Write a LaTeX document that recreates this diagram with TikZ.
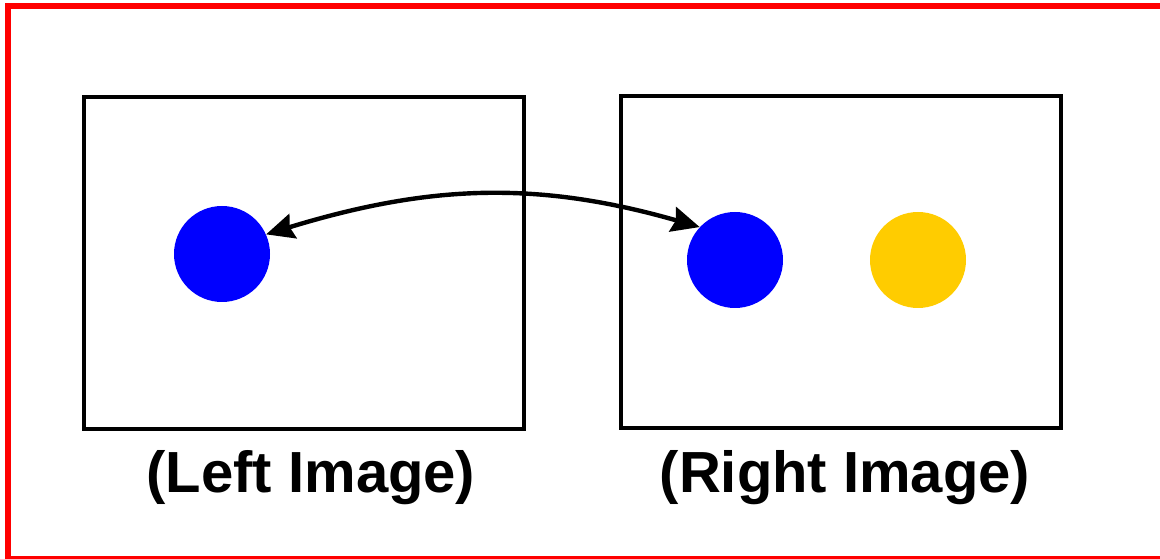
\documentclass[tikz,border=0pt]{standalone}
\usepackage{fontspec}
\setmainfont{Liberation Sans}
\usetikzlibrary{arrows.meta}

\begin{document}
\begin{tikzpicture}[x=0.75pt,y=-0.75pt,
  frame/.style={draw,line width=2.8pt,minimum width=330pt,minimum height=249pt,inner sep=0pt},
  dot/.style={circle,minimum size=72pt,inner sep=0pt},
  caption/.style={font=\fontsize{43.5}{48}\bfseries\selectfont,inner sep=0pt}]
  \useasboundingbox (0,0) rectangle (1160,559);
  \draw[red,line width=4.5pt] (8,6.5) rectangle (1175,559);
  \node[frame] (lbox) at (304,263) {};
  \node[frame] (rbox) at (841,262) {};
  \node[dot,fill=blue] (lb) at (222,254) {};
  \node[dot,fill=blue] (rb) at (735,260) {};
  \node[dot,fill={rgb,255:red,255;green,204;blue,0}] (ry) at (918,260) {};
  \node[caption] (lcap) at (311,478) {(Left Image)};
  \node[caption] (rcap) at (845,478) {(Right Image)};
  \draw[{Stealth[length=21pt,width=19pt,inset=2.5pt]}-{Stealth[length=21pt,width=19pt,inset=2.5pt]},line width=3.3pt]
    (lb.24) to[out=17,in=164] (rb.137);
\end{tikzpicture}
\end{document}
